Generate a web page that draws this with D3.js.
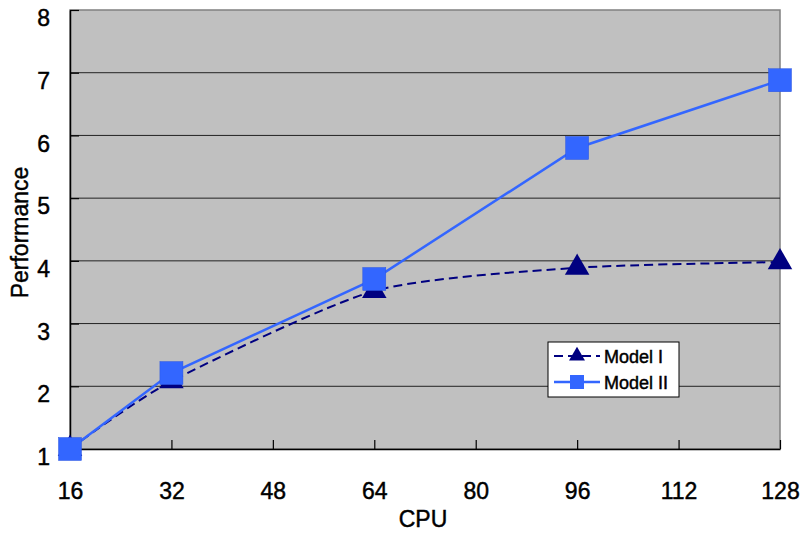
<!DOCTYPE html>
<html>
<head>
<meta charset="utf-8">
<script src="https://cdn.jsdelivr.net/npm/d3@7"></script>
<style>
  body { margin: 0; background: #fff; }
  text { font-family: "Liberation Sans", Arial, sans-serif; fill: #000; stroke: #000; stroke-width: 0.45px; }
</style>
</head>
<body>
<div id="app"></div>
<script>
const MARGIN = { top: 10, right: 24, bottom: 86, left: 70 }
const OUTER = { width: 804, height: 535 }
const INNER = {
  width: OUTER.width - MARGIN.left - MARGIN.right,
  height: OUTER.height - MARGIN.top - MARGIN.bottom,
};

const cpus = [16, 32, 64, 96, 128]
const modelI = [1, 2.08, 3.52, 3.89, 3.98]
const modelII = [1, 2.21, 3.71, 5.8, 6.88]
const xTicks = [16, 32, 48, 64, 80, 96, 112, 128]
const yTicks = [1, 2, 3, 4, 5, 6, 7, 8]

const xScale = d3.scaleLinear().domain([16, 128]).range([0, INNER.width])
const yScale = d3.scaleLinear().domain([1, 8]).range([INNER.height, 0])

const svg = d3.select('#app')
  .append('svg')
  .attr('width', OUTER.width)
  .attr('height', OUTER.height);

const chart = svg.append('g')
  .attr('transform', `translate(${MARGIN.left}, ${MARGIN.top})`);

chart.append('rect')
  .attr('width', INNER.width)
  .attr('height', INNER.height)
  .attr('fill', '#c0c0c0')
  .attr('stroke', '#808080')
  .attr('stroke-width', 1.5);

// gridlines
chart.append('g')
  .selectAll('line')
  .data(yTicks.slice(1, -1))
  .join('line')
  .attr('x1', 0)
  .attr('x2', INNER.width)
  .attr('y1', d => yScale(d))
  .attr('y2', d => yScale(d))
  .attr('stroke', '#222')
  .attr('stroke-width', 1);

const xAxis = chart.append('g')
  .attr('transform', `translate(0, ${INNER.height})`)
  .call(d3.axisBottom(xScale).tickValues(xTicks).tickFormat(d3.format('d'))
    .tickSizeInner(-9).tickSizeOuter(0).tickPadding(24));
const yAxis = chart.append('g')
  .call(d3.axisLeft(yScale).tickValues(yTicks).tickFormat(d3.format('d'))
    .tickSizeInner(-9).tickSizeOuter(0).tickPadding(24));

[xAxis, yAxis].forEach(a => {
  a.attr('font-size', null);
  a.select('.domain').attr('stroke', '#000').attr('stroke-width', 1.5);
  a.selectAll('.tick line').attr('stroke', '#000').attr('stroke-width', 1.2);
  a.selectAll('.tick text').style('font-size', '23px').attr('fill', '#000');
});
yAxis.selectAll('.tick text').attr('dy', '0.68em').attr('x', -20);
xAxis.selectAll('.tick text').attr('dy', '1.15em');

const seriesI = cpus.map((c, i) => ({ x: c, y: modelI[i] }))
const seriesII = cpus.map((c, i) => ({ x: c, y: modelII[i] }))

const smooth = d3.line()
  .x(d => xScale(d.x))
  .y(d => yScale(d.y))
  .curve(d3.curveCardinal.tension(0.3));
const straight = d3.line()
  .x(d => xScale(d.x))
  .y(d => yScale(d.y));

chart.append('path')
  .datum(seriesI)
  .attr('d', smooth)
  .attr('fill', 'none')
  .attr('stroke', '#000080')
  .attr('stroke-width', 2)
  .attr('stroke-dasharray', '9,5');

chart.append('path')
  .datum(seriesII)
  .attr('d', straight)
  .attr('fill', 'none')
  .attr('stroke', '#3366ff')
  .attr('stroke-width', 2.5);

const tri = d3.symbol().type(d3.symbolTriangle).size(260);

chart.append('g')
  .selectAll('path')
  .data(seriesI)
  .join('path')
  .attr('d', tri)
  .attr('transform', d => `translate(${xScale(d.x)}, ${yScale(d.y)})`)
  .attr('fill', '#000080');

chart.append('g')
  .selectAll('rect')
  .data(seriesII)
  .join('rect')
  .attr('x', d => xScale(d.x) - 11.5)
  .attr('y', d => yScale(d.y) - 11.5)
  .attr('width', 23)
  .attr('height', 23)
  .attr('fill', '#3366ff')
  .attr('stroke', '#2a55e0')
  .attr('stroke-width', 0.5);

// axis titles
svg.append('text')
  .attr('x', MARGIN.left + INNER.width / 2 - 2)
  .attr('y', 527)
  .attr('text-anchor', 'middle')
  .style('font-size', '23px')
  .text('CPU');

svg.append('text')
  .attr('transform', `translate(28, ${MARGIN.top + INNER.height / 2 + 3}) rotate(-90)`)
  .attr('text-anchor', 'middle')
  .style('font-size', '23px')
  .text('Performance');

// legend
const legend = svg.append('g').attr('transform', 'translate(548, 342)');
legend.append('rect')
  .attr('width', 131)
  .attr('height', 55)
  .attr('fill', '#fff')
  .attr('stroke', '#000')
  .attr('stroke-width', 1);

const legendItems = [
  { name: 'Model I', y: 14, dash: '9,5', color: '#000080', mark: 'tri' },
  { name: 'Model II', y: 40, dash: null, color: '#3366ff', mark: 'sq' },
];
legendItems.forEach(it => {
  legend.append('line')
    .attr('x1', 6).attr('x2', 52)
    .attr('y1', it.y).attr('y2', it.y)
    .attr('stroke', it.color)
    .attr('stroke-width', it.mark === 'tri' ? 2 : 2.5)
    .attr('stroke-dasharray', it.dash);
  if (it.mark === 'tri') {
    legend.append('path')
      .attr('d', d3.symbol().type(d3.symbolTriangle).size(110))
      .attr('transform', `translate(29, ${it.y})`)
      .attr('fill', it.color);
  } else {
    legend.append('rect')
      .attr('x', 22).attr('y', it.y - 7)
      .attr('width', 14).attr('height', 14)
      .attr('fill', it.color);
  }
  legend.append('text')
    .attr('x', 56)
    .attr('y', it.y + 7)
    .style('font-size', '18px')
    .text(it.name);
});
</script>
</body>
</html>
